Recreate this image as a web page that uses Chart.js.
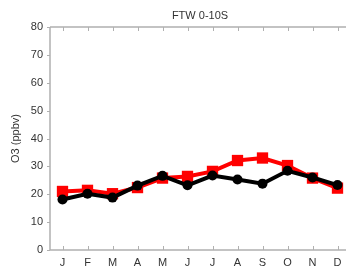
<!DOCTYPE html>
<html>
<head>
<meta charset="utf-8">
<script src="https://cdn.jsdelivr.net/npm/chart.js@4/dist/chart.umd.min.js"></script>
<style>
  html, body { margin: 0; padding: 0; background: #fff; }
  #wrap { width: 346px; height: 266px; }
</style>
</head>
<body>
<div id="wrap"><canvas id="myChart"></canvas></div>
<script>
var months = ["J", "F", "M", "A", "M", "J", "J", "A", "S", "O", "N", "D"];
var black_vals = [18.1, 20.2, 18.8, 23.1, 26.6, 23.2, 26.7, 25.3, 23.8, 28.4, 26.0, 23.3];
var red_vals = [21.0, 21.4, 20.2, 22.4, 25.8, 26.4, 28.2, 32.1, 33.0, 30.3, 25.8, 22.2];
var y_ticks = [0, 10, 20, 30, 40, 50, 60, 70, 80];
var title_text = "FTW 0-10S";
var y_title = "O3 (ppbv)";

var axis_color = "#b0b0b0";
var text_color = "#333333";
var font_family = "'Liberation Sans', Arial, sans-serif";

// the original plot box runs a little past the right edge of the picture
var stretchPlugin = {
  id: "stretch",
  afterLayout: function(chart){
    var xs = chart.scales.x;
    chart.chartArea.right = 350;
    chart.chartArea.width = 350 - chart.chartArea.left;
    xs.right = 350;
    xs.width = 350 - xs.left;
    xs.configure();
  }
};

// frame + inward tick marks like the original plot
var framePlugin = {
  id: "frame",
  afterDraw: function(chart){
    var ctx = chart.ctx;
    var a = chart.chartArea;
    var xs = chart.scales.x;
    var ys = chart.scales.y;
    ctx.save();
    ctx.strokeStyle = axis_color;
    ctx.lineWidth = 1.5;
    ctx.beginPath();
    ctx.moveTo(a.left, a.top); ctx.lineTo(a.right, a.top);
    ctx.moveTo(a.left, a.top); ctx.lineTo(a.left, a.bottom);
    ctx.moveTo(a.left, a.bottom); ctx.lineTo(a.right, a.bottom);
    ctx.stroke();
    ctx.lineWidth = 1;
    ctx.beginPath();
    for (var i = 0; i < months.length; i++) {
      var px = Math.round(xs.getPixelForValue(i)) + 0.5;
      ctx.moveTo(px, a.bottom); ctx.lineTo(px, a.bottom - 4);
      ctx.moveTo(px, a.top); ctx.lineTo(px, a.top + 4);
    }
    for (var j = 0; j < y_ticks.length; j++) {
      var py = Math.round(ys.getPixelForValue(y_ticks[j])) + 0.5;
      ctx.moveTo(a.left - 3, py); ctx.lineTo(a.left, py);
    }
    ctx.stroke();
    // title, centred over the plot box
    ctx.fillStyle = text_color;
    ctx.font = "11px " + font_family;
    ctx.textAlign = "center";
    ctx.textBaseline = "middle";
    ctx.fillText(title_text, (a.left + a.right) / 2, 16);
    ctx.restore();
  }
};

var canvas = document.getElementById("myChart").getContext("2d");
var chart = new Chart(canvas, {
  type: "line",
  data: {
    labels: months,
    datasets: [
      {label: "black", data: black_vals, borderColor: "#000000", backgroundColor: "#000000",
       borderWidth: 4, pointStyle: "circle", pointRadius: 5, pointBorderWidth: 0, tension: 0},
      {label: "red", data: red_vals, borderColor: "#ff0000", backgroundColor: "#ff0000",
       borderWidth: 4, pointStyle: "rect", pointRadius: 8, pointBorderWidth: 0, tension: 0}
    ]
  },
  options: {
    responsive: true,
    maintainAspectRatio: false,
    animation: false,
    layout: {autoPadding: false, padding: {top: 27, right: 0, left: 9, bottom: 0}},
    plugins: {legend: {display: false}, title: {display: false}, tooltip: {enabled: false}},
    scales: {
      x: {
        offset: true,
        grid: {display: false, drawTicks: false},
        border: {display: false},
        ticks: {color: text_color, font: {size: 11, family: font_family}, padding: 6, maxRotation: 0},
        afterFit: function(s){ s.height = 16; s.paddingLeft = 0; s.paddingRight = 0; }
      },
      y: {
        min: 0, max: 80,
        afterBuildTicks: function(s){ s.ticks = y_ticks.map(function(v){ return {value: v}; }); },
        grid: {display: false, drawTicks: false},
        border: {display: false},
        ticks: {color: text_color, font: {size: 11, family: font_family}, padding: 7},
        title: {display: true, text: y_title, color: text_color, font: {size: 11, family: font_family}, padding: 0},
        afterFit: function(s){ s.width = 41; s.paddingTop = 0; s.paddingBottom = 0; }
      }
    }
  },
  plugins: [stretchPlugin, framePlugin]
});
</script>
</body>
</html>
